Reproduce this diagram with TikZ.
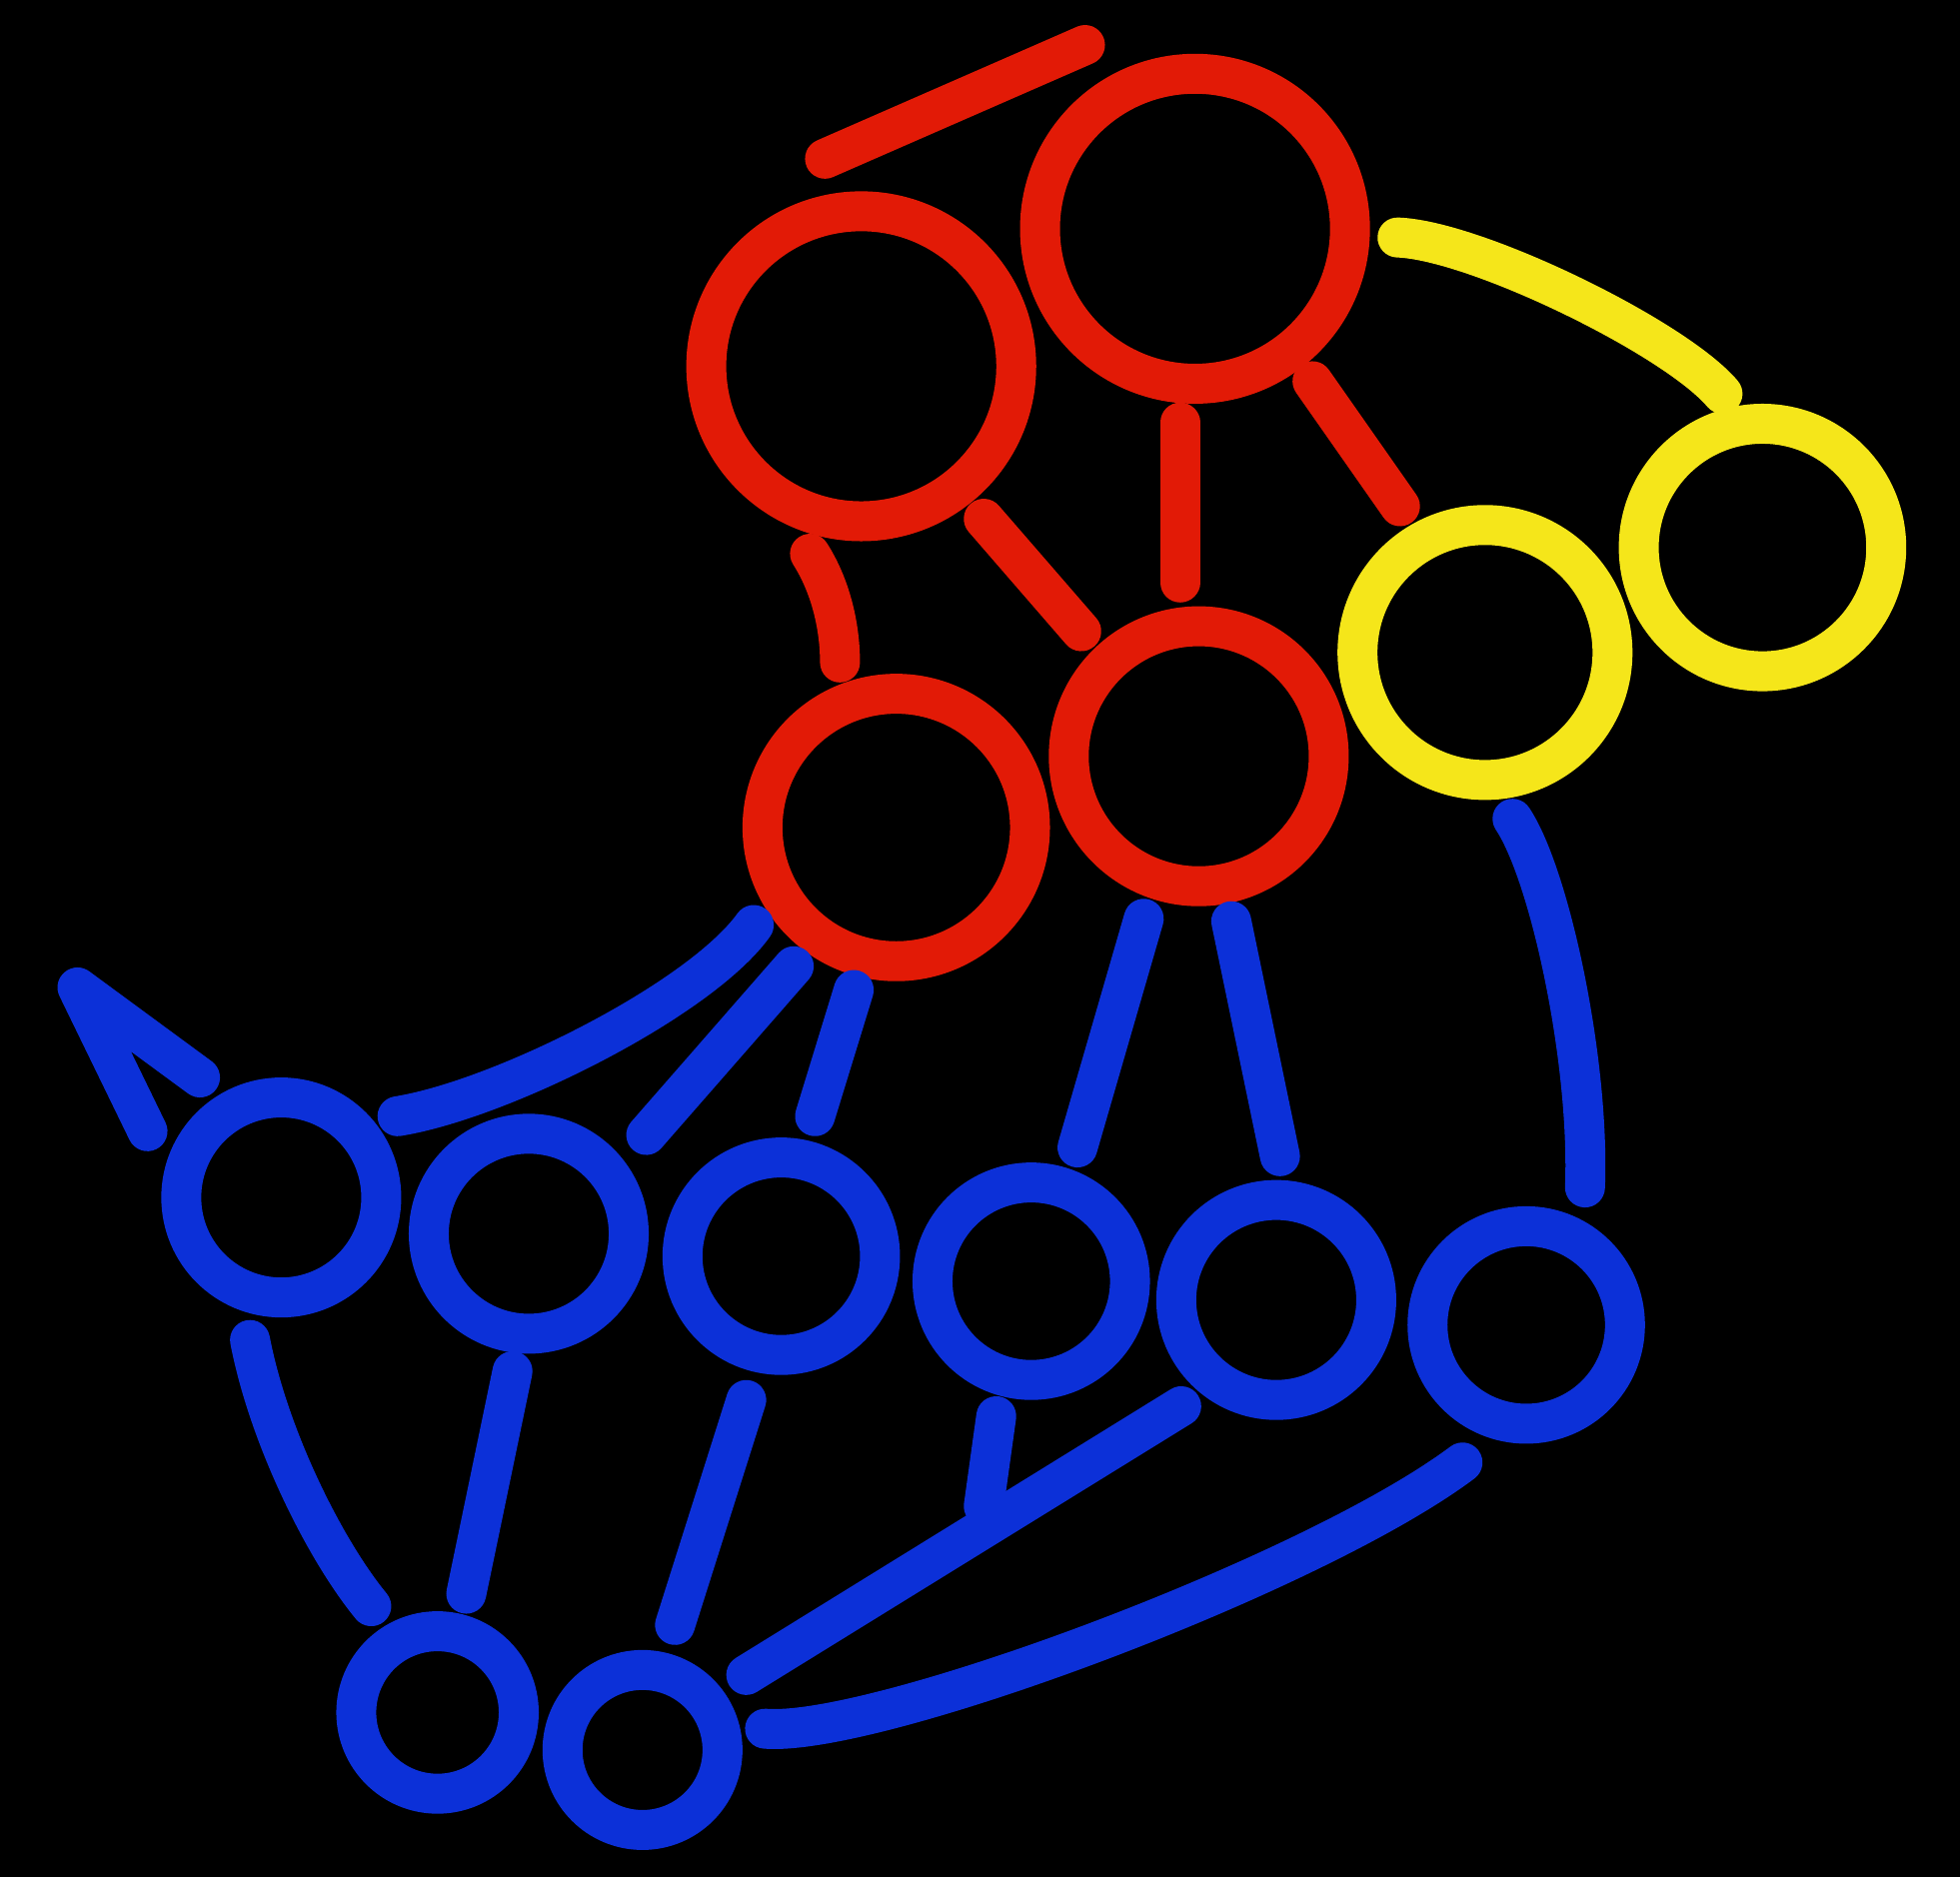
\documentclass[tikz,border=0pt]{standalone}
\begin{document}
\begin{tikzpicture}[x=0.012506cm,y=-0.012506cm,
  ring/.style={circle,draw,inner sep=0pt,outer sep=0pt,line width=0.4cm,minimum size={#1*0.012506cm}},
  red ring/.style={ring=#1,draw=cred},
  yel ring/.style={ring=#1,draw=cyel},
  blu ring/.style={ring=#1,draw=cblu},
  edge/.style={line width=0.4cm,line cap=round,line join=round},
  redge/.style={edge,draw=cred},
  yedge/.style={edge,draw=cyel},
  bedge/.style={edge,draw=cblu}]
\definecolor{cred}{RGB}{226,26,6}
\definecolor{cyel}{RGB}{245,230,26}
\definecolor{cblu}{RGB}{12,48,216}
\fill[black] (0,0) rectangle (1568,1502);
\useasboundingbox (0,0) rectangle (1568,1502);
% red
\node[red ring=248] (R1) at (956,183) {};
\node[red ring=248] (R2) at (689,293) {};
\node[red ring=214] (R3) at (717,662) {};
\node[red ring=208] (R4) at (959,605) {};
% yellow
\node[yel ring=204] (Y1) at (1188,522) {};
\node[yel ring=198] (Y2) at (1410,438) {};
% blue
\node[blu ring=160] (B1) at (225,958) {};
\node[blu ring=160] (B2) at (423,987) {};
\node[blu ring=158] (B3) at (625,1005) {};
\node[blu ring=158] (B4) at (825,1025) {};
\node[blu ring=160] (B5) at (1021,1040) {};
\node[blu ring=158] (B6) at (1221,1060) {};
\node[blu ring=130] (B7) at (350,1370) {};
\node[blu ring=128] (B8) at (514,1400) {};
% endpoints
\coordinate (a1) at (660,127); \coordinate (a2) at (868,36);
\coordinate (b1) at (944,338); \coordinate (b2) at (944,466);
\coordinate (c1) at (1050,305); \coordinate (c2) at (1120,405);
\coordinate (d1) at (787,415); \coordinate (d2) at (865,505);
\coordinate (e1) at (648,443); \coordinate (e2) at (672,530);
\coordinate (f1) at (1118,190); \coordinate (f2) at (1378,315);
\coordinate (g1) at (603,740); \coordinate (g2) at (318,893);
\coordinate (h1) at (635,773); \coordinate (h2) at (517,908);
\coordinate (i1) at (683,792); \coordinate (i2) at (652,893);
\coordinate (j1) at (915,735); \coordinate (j2) at (862,918);
\coordinate (k1) at (985,737); \coordinate (k2) at (1024,925);
\coordinate (l1) at (1210,655); \coordinate (l2) at (1268,950);
\coordinate (m1) at (160,862); \coordinate (m2) at (62,790); \coordinate (m3) at (118,905);
\coordinate (n1) at (200,1072); \coordinate (n2) at (297,1285);
\coordinate (o1) at (410,1097); \coordinate (o2) at (373,1275);
\coordinate (p1) at (597,1120); \coordinate (p2) at (540,1300);
\coordinate (q1) at (797,1133); \coordinate (q2) at (787,1205);
\coordinate (r1) at (945,1125); \coordinate (r2) at (597,1340);
\coordinate (s1) at (1170,1170); \coordinate (s2) at (612,1383);
% red edges
\draw[redge] (a1) -- (a2);
\draw[redge] (b1) -- (b2);
\draw[redge] (c1) -- (c2);
\draw[redge] (d1) -- (d2);
\draw[redge] (e1) .. controls (664,468) and (672,500) .. (e2);
% yellow
\draw[yedge] (f1) .. controls (1180,192) and (1340,270) .. (f2);
% blue
\draw[bedge] (g1) .. controls (560,800) and (400,880) .. (g2);
\draw[bedge] (h1) -- (h2);
\draw[bedge] (i1) -- (i2);
\draw[bedge] (j1) -- (j2);
\draw[bedge] (k1) -- (k2);
\draw[bedge] (l1) .. controls (1240,700) and (1272,850) .. (l2);
\draw[bedge] (m1) -- (m2) -- (m3);
\draw[bedge] (n1) .. controls (215,1150) and (260,1240) .. (n2);
\draw[bedge] (o1) -- (o2);
\draw[bedge] (p1) -- (p2);
\draw[bedge] (q1) -- (q2);
\draw[bedge] (r1) -- (r2);
\draw[bedge] (s1) .. controls (1050,1260) and (700,1390) .. (s2);
\end{tikzpicture}
\end{document}
